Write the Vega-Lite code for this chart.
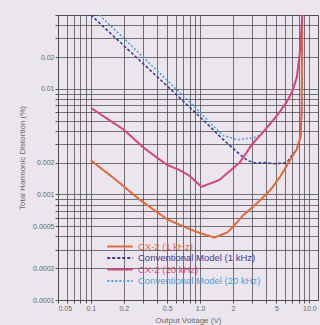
{
  "$schema": "https://vega.github.io/schema/vega-lite/v6.json",
  "width": 260,
  "height": 285,
  "autosize": {"type": "none"},
  "padding": {"left": 58, "top": 15, "right": 2, "bottom": 25},
  "background": "#ebe6ee",
  "config": {
    "view": {"stroke": "#555", "strokeWidth": 1},
    "font": "Liberation Sans",
    "axis": {
      "gridColor": "#4a4a4a",
      "gridOpacity": 0.75,
      "gridWidth": 1,
      "domain": false,
      "tickColor": "#555",
      "tickSize": 3,
      "labelColor": "#666",
      "labelFontSize": 7,
      "titleColor": "#666",
      "titleFontSize": 8,
      "titleFontWeight": "normal"
    }
  },
  "data": {
    "values": [
      {"series": "CX-2 (1 kHz)", "v": 0.1, "thd": 0.0021},
      {"series": "CX-2 (1 kHz)", "v": 0.17, "thd": 0.00137},
      {"series": "CX-2 (1 kHz)", "v": 0.28, "thd": 0.00089},
      {"series": "CX-2 (1 kHz)", "v": 0.5, "thd": 0.00058},
      {"series": "CX-2 (1 kHz)", "v": 0.8, "thd": 0.00047},
      {"series": "CX-2 (1 kHz)", "v": 1.0, "thd": 0.00043},
      {"series": "CX-2 (1 kHz)", "v": 1.35, "thd": 0.00039},
      {"series": "CX-2 (1 kHz)", "v": 1.8, "thd": 0.00044},
      {"series": "CX-2 (1 kHz)", "v": 2.5, "thd": 0.00064},
      {"series": "CX-2 (1 kHz)", "v": 3.3, "thd": 0.00082},
      {"series": "CX-2 (1 kHz)", "v": 4.4, "thd": 0.0011},
      {"series": "CX-2 (1 kHz)", "v": 5.4, "thd": 0.00147},
      {"series": "CX-2 (1 kHz)", "v": 6.4, "thd": 0.00197},
      {"series": "CX-2 (1 kHz)", "v": 7.7, "thd": 0.0027},
      {"series": "CX-2 (1 kHz)", "v": 8.3, "thd": 0.0035},
      {"series": "CX-2 (1 kHz)", "v": 8.5, "thd": 0.006},
      {"series": "CX-2 (1 kHz)", "v": 8.6, "thd": 0.05},
      {"series": "Conventional Model (1 kHz)", "v": 0.1, "thd": 0.05},
      {"series": "Conventional Model (1 kHz)", "v": 0.5, "thd": 0.0106},
      {"series": "Conventional Model (1 kHz)", "v": 1.0, "thd": 0.0054},
      {"series": "Conventional Model (1 kHz)", "v": 1.63, "thd": 0.0033},
      {"series": "Conventional Model (1 kHz)", "v": 2.2, "thd": 0.0025},
      {"series": "Conventional Model (1 kHz)", "v": 2.7, "thd": 0.0021},
      {"series": "Conventional Model (1 kHz)", "v": 3.2, "thd": 0.00198},
      {"series": "Conventional Model (1 kHz)", "v": 4.0, "thd": 0.002},
      {"series": "Conventional Model (1 kHz)", "v": 5.0, "thd": 0.00195},
      {"series": "Conventional Model (1 kHz)", "v": 6.2, "thd": 0.002},
      {"series": "Conventional Model (1 kHz)", "v": 6.6, "thd": 0.0022},
      {"series": "Conventional Model (1 kHz)", "v": 7.7, "thd": 0.0027},
      {"series": "Conventional Model (1 kHz)", "v": 8.3, "thd": 0.0035},
      {"series": "Conventional Model (1 kHz)", "v": 8.5, "thd": 0.006},
      {"series": "Conventional Model (1 kHz)", "v": 8.6, "thd": 0.05},
      {"series": "CX-2 (20 kHz)", "v": 0.1, "thd": 0.0066},
      {"series": "CX-2 (20 kHz)", "v": 0.2, "thd": 0.0041},
      {"series": "CX-2 (20 kHz)", "v": 0.3, "thd": 0.0028},
      {"series": "CX-2 (20 kHz)", "v": 0.41, "thd": 0.0022},
      {"series": "CX-2 (20 kHz)", "v": 0.5, "thd": 0.0019},
      {"series": "CX-2 (20 kHz)", "v": 0.65, "thd": 0.0017},
      {"series": "CX-2 (20 kHz)", "v": 0.8, "thd": 0.0015},
      {"series": "CX-2 (20 kHz)", "v": 1.03, "thd": 0.00118},
      {"series": "CX-2 (20 kHz)", "v": 1.5, "thd": 0.00137},
      {"series": "CX-2 (20 kHz)", "v": 2.3, "thd": 0.002},
      {"series": "CX-2 (20 kHz)", "v": 3.0, "thd": 0.003},
      {"series": "CX-2 (20 kHz)", "v": 3.7, "thd": 0.0038},
      {"series": "CX-2 (20 kHz)", "v": 4.4, "thd": 0.0047},
      {"series": "CX-2 (20 kHz)", "v": 5.2, "thd": 0.0058},
      {"series": "CX-2 (20 kHz)", "v": 6.2, "thd": 0.0075},
      {"series": "CX-2 (20 kHz)", "v": 7.0, "thd": 0.0095},
      {"series": "CX-2 (20 kHz)", "v": 7.7, "thd": 0.013},
      {"series": "CX-2 (20 kHz)", "v": 8.3, "thd": 0.025},
      {"series": "CX-2 (20 kHz)", "v": 8.6, "thd": 0.05},
      {"series": "Conventional Model (20 kHz)", "v": 0.12, "thd": 0.05},
      {"series": "Conventional Model (20 kHz)", "v": 0.5, "thd": 0.012},
      {"series": "Conventional Model (20 kHz)", "v": 1.0, "thd": 0.006},
      {"series": "Conventional Model (20 kHz)", "v": 1.3, "thd": 0.0045},
      {"series": "Conventional Model (20 kHz)", "v": 1.63, "thd": 0.0036},
      {"series": "Conventional Model (20 kHz)", "v": 2.2, "thd": 0.0033},
      {"series": "Conventional Model (20 kHz)", "v": 2.9, "thd": 0.0034},
      {"series": "Conventional Model (20 kHz)", "v": 3.3, "thd": 0.0035},
      {"series": "Conventional Model (20 kHz)", "v": 3.7, "thd": 0.0038},
      {"series": "Conventional Model (20 kHz)", "v": 4.4, "thd": 0.0047},
      {"series": "Conventional Model (20 kHz)", "v": 5.2, "thd": 0.0058},
      {"series": "Conventional Model (20 kHz)", "v": 6.2, "thd": 0.0075},
      {"series": "Conventional Model (20 kHz)", "v": 7.0, "thd": 0.0095},
      {"series": "Conventional Model (20 kHz)", "v": 7.7, "thd": 0.013},
      {"series": "Conventional Model (20 kHz)", "v": 8.3, "thd": 0.025},
      {"series": "Conventional Model (20 kHz)", "v": 8.6, "thd": 0.05}
    ]
  },
  "encoding": {
    "x": {
      "field": "v", "type": "quantitative",
      "scale": {"type": "log", "domain": [0.05, 12], "nice": false},
      "axis": {
        "title": "Output Voltage (V)",
        "titlePadding": 5,
        "labelPadding": 1,
        "values": [0.05, 0.06, 0.07, 0.08, 0.09, 0.1, 0.2, 0.3, 0.4, 0.5, 0.6, 0.7, 0.8, 0.9, 1, 2, 3, 4, 5, 6, 7, 8, 9, 10],
        "labelExpr": "datum.value == 0.05 ? '0.05' : datum.value == 0.1 ? '0.1' : datum.value == 0.2 ? '0.2' : datum.value == 0.5 ? '0.5' : datum.value == 1 ? '1.0' : datum.value == 2 ? '2' : datum.value == 5 ? '5' : datum.value == 10 ? '10.0' : ''",
        "labelFlush": true
      }
    },
    "y": {
      "field": "thd", "type": "quantitative",
      "scale": {"type": "log", "domain": [0.0001, 0.05], "nice": false},
      "axis": {
        "title": "Total Harmonic Distortion (%)",
        "titlePadding": 6,
        "labelPadding": 1,
        "values": [0.0001, 0.0002, 0.0003, 0.0004, 0.0005, 0.0006, 0.0007, 0.0008, 0.0009, 0.001, 0.002, 0.003, 0.004, 0.005, 0.006, 0.007, 0.008, 0.009, 0.01, 0.02, 0.03, 0.04, 0.05],
        "labelExpr": "datum.value == 0.0001 ? '0.0001' : datum.value == 0.0002 ? '0.0002' : datum.value == 0.0005 ? '0.0005' : datum.value == 0.001 ? '0.001' : datum.value == 0.002 ? '0.002' : datum.value == 0.01 ? '0.01' : datum.value == 0.02 ? '0.02' : ''"
      }
    },
    "color": {
      "field": "series", "type": "nominal",
      "scale": {
        "domain": ["CX-2 (1 kHz)", "Conventional Model (1 kHz)", "CX-2 (20 kHz)", "Conventional Model (20 kHz)"],
        "range": ["#e4693a", "#3a3890", "#d8447c", "#4b9fd8"]
      },
      "legend": {
        "title": null,
        "orient": "none",
        "legendX": 48,
        "legendY": 226,
        "symbolType": "stroke",
        "symbolSize": 650,
        "symbolStrokeWidth": 2,
        "clipHeight": 11,
        "labelFontSize": 9.5,
        "labelOffset": 4,
        "rowPadding": 0.5,
        "encode": {"labels": {"update": {"fill": {"scale": "color", "field": "value"}}}}
      }
    },
    "strokeDash": {
      "field": "series", "type": "nominal",
      "scale": {
        "domain": ["CX-2 (1 kHz)", "Conventional Model (1 kHz)", "CX-2 (20 kHz)", "Conventional Model (20 kHz)"],
        "range": [[1, 0], [3, 2], [1, 0], [2, 2]]
      },
      "legend": {
        "title": null,
        "orient": "none",
        "legendX": 48,
        "legendY": 226,
        "symbolType": "stroke",
        "symbolSize": 650,
        "symbolStrokeWidth": 2,
        "clipHeight": 11,
        "labelFontSize": 9.5,
        "labelOffset": 4,
        "rowPadding": 0.5,
        "encode": {"labels": {"update": {"fill": {"scale": "color", "field": "value"}}}}
      }
    }
  },
  "layer": [
    {
      "transform": [{"filter": "indexof(datum.series, 'Conventional') >= 0"}],
      "mark": {"type": "line", "strokeWidth": 1.5, "clip": true}
    },
    {
      "transform": [{"filter": "indexof(datum.series, 'CX-2') >= 0"}],
      "mark": {"type": "line", "strokeWidth": 2, "clip": true}
    }
  ]
}
